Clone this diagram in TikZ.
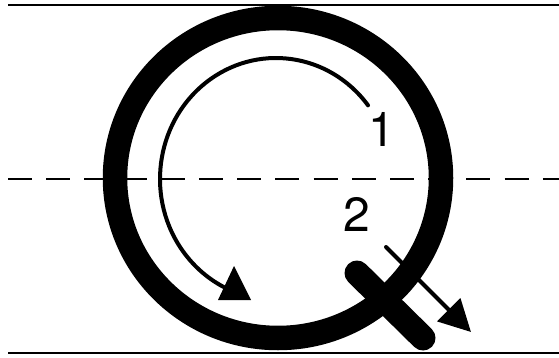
\documentclass[tikz,border=0pt]{standalone}
\usepackage{fontspec}
\setmainfont{TeX Gyre Heros}
\usetikzlibrary{arrows.meta}

\begin{document}
\begin{tikzpicture}[x=1pt, y=-1pt,
  guide/.style={line width=2pt},
  midline/.style={line width=2pt, dash pattern=on 24pt off 14.2pt},
  ring/.style={line width=24.5pt},
  trace/.style={line width=4pt, line cap=round},
  num/.style={font=\fontsize{48}{48}\selectfont, inner sep=0pt}]
\useasboundingbox (0,0) rectangle (559,358);
% writing lines
\coordinate (tl) at (8,5);   \coordinate (tr) at (559,5);
\coordinate (ml) at (8,179); \coordinate (mr) at (559,179);
\coordinate (bl) at (8,353); \coordinate (br) at (559,353);
\draw[guide] (tl) -- (tr);
\draw[midline] (ml) -- (mr);
\draw[guide] (bl) -- (br);
% the letter
\coordinate (c) at (278,178);
\draw[ring] (c) ellipse [x radius=163, y radius=160];
\coordinate (q1) at (357,273); \coordinate (q2) at (423,338);
\draw[ring, line width=25pt, line cap=round] (q1) -- (q2);
% stroke 1
\coordinate (s1) at (276,179);
\draw[trace] (s1) ++(-37.5:116 and 121)
  arc [start angle=-37.5, end angle=-244, x radius=116, y radius=121];
\coordinate (h1) at (234,266); \coordinate (h2) at (218,300); \coordinate (h3) at (251,300);
\fill (h1) -- (h2) -- (h3) -- cycle;
\node[num] (one) at (382,129) {1};
% stroke 2
\coordinate (a1) at (386,247); \coordinate (a2) at (471,332);
\draw[trace, -{Triangle[length=31.5pt, width=32pt]}] (a1) -- (a2);
\node[num] (two) at (357,214) {2};
\end{tikzpicture}
\end{document}
